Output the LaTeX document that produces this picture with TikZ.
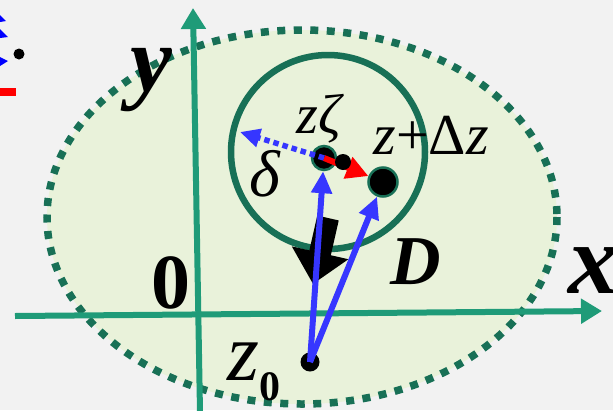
\documentclass[tikz,border=0pt]{standalone}
\usepackage{fontspec}
\setmainfont{Liberation Serif}
\usetikzlibrary{arrows.meta,calc,positioning}
\definecolor{bg}{RGB}{242,242,242}
\definecolor{region}{RGB}{233,242,218}
\definecolor{rim}{RGB}{24,112,86}
\definecolor{axis}{RGB}{31,155,120}
\definecolor{vec}{RGB}{54,54,255}
\definecolor{dz}{RGB}{255,0,0}
\newcommand\fsz[1]{\fontsize{#1}{#1}\selectfont}

\begin{document}
\begin{tikzpicture}[x=1pt,y=-1pt,>=Latex,every node/.style={inner sep=0pt},
  dotpt/.style={circle,fill=black,draw=rim,line width=2.5pt,minimum size=#1},
  axisline/.style={draw=axis,line width=6pt,-{Triangle[length=21pt,width=24pt]}},
  vecline/.style={draw=vec,line width=6pt,-{Triangle[length=22pt,width=20pt]}},
  dzline/.style={draw=dz,line width=6pt,-{Triangle[length=22pt,width=22pt]}}]
\useasboundingbox (0,0) rectangle (613,410);
\fill[bg] (0,0) rectangle (613,410);
% region D
\fill[region] (302,217) ellipse [x radius=255,y radius=187];
\draw[rim,line width=7.5pt,dash pattern=on 8pt off 8.5pt] (302,217) ellipse [x radius=255,y radius=187];
% axes
\coordinate (xs) at (15,316);
\coordinate (xe) at (602,311);
\coordinate (ys) at (200,412);
\coordinate (ye) at (193,8);
\draw[axisline] (xs) -- (xe);
\draw[axisline] (ys) -- (ye);
% disk round z
\draw[rim,line width=6.5pt] (328,152) circle [radius=97];
\coordinate (bk1) at (328,218);
\coordinate (bk2) at (313,284);
\draw[line width=22pt,-{Triangle[length=32pt,width=56pt]}] (bk1) -- (bk2);
% points
\node[dotpt=19pt,draw=none] (z0) at (310,362) {};
\node[dotpt=24pt] (z) at (324,158) {};
\node[dotpt=29pt] (zdz) at (383,182) {};
\coordinate (dtip) at (240,132);
\foreach \b in {z,zdz} \draw[vecline] (z0.center) -- (\b);
\draw[dzline] (z.center) -- (zdz);
\draw[draw=vec,line width=5.5pt,dash pattern=on 5.5pt off 4pt,-{Triangle[length=20pt,width=18pt]}] (z.center) -- (dtip);
\node[dotpt=16pt,draw=none] (zeta) at (343,162) {};
% labels
\node[font=\fsz{94}\bfseries\itshape] (ylab) at (151,80) {y};
\node[font=\fsz{100}\bfseries\itshape] (xlab) at (593,271) {x};
\node[font=\fsz{78}\bfseries] (orig) at (171,283) {0};
\node[font=\fsz{70}\bfseries\itshape] (Dlab) at (416,262) {D};
\node[font=\fsz{66}\itshape] (dlab) at (265,174) {δ};
\node[font=\fsz{56}\itshape] (zlab) at (319,119) {zζ};
\node[font=\fsz{58},anchor=base] (zdzlab) at (431,154) {\textit{z}+Δ\textit{z}};
\node[font=\fsz{82}\itshape,anchor=base west] (z0lab) at (227,380) {z\raisebox{-20pt}{\fsz{42}\upshape\bfseries 0}};
% cut-off marks at the left edge
\fill[blue] (0,15) -- (6,21) -- (0,22) -- cycle;
\fill[blue] (0,29) -- (8,37) -- (0,38) -- cycle;
\fill[blue] (0,57) -- (8,61) -- (0,66) -- cycle;
\fill[black] (19,54) circle [radius=5.5];
\fill[dz] (0,88) rectangle (16,96);
\end{tikzpicture}
\end{document}
